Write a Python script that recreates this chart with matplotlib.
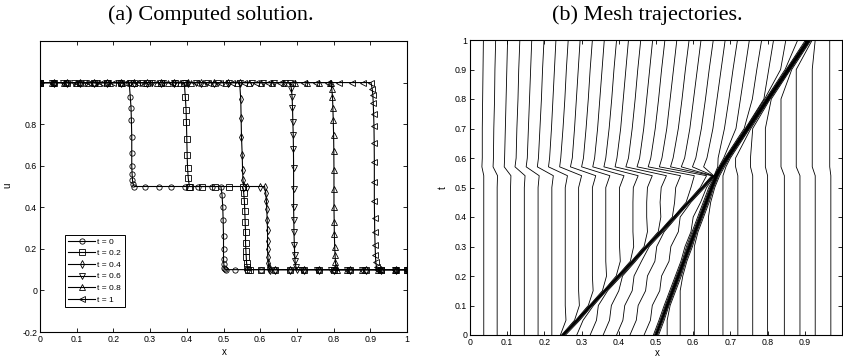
import matplotlib
matplotlib.use("Agg")
import matplotlib.pyplot as plt
import numpy as np

# ---------------- data ----------------
# time levels at which the mesh node positions were read (panel b)
t_levels = [0.0, 0.05, 0.1, 0.15, 0.2, 0.25, 0.3, 0.35, 0.4, 0.45, 0.5,
            0.54, 0.57, 0.6, 0.7, 0.8, 0.9, 1.0]

mesh_t000 = [0.000, 0.037, 0.073, 0.109, 0.146, 0.183, 0.220,
             0.243, 0.246, 0.248, 0.249, 0.250, 0.250, 0.250, 0.251, 0.252, 0.254, 0.257,
             0.287, 0.323, 0.358, 0.394, 0.430, 0.468,
             0.493, 0.496, 0.498, 0.499, 0.500, 0.500, 0.500, 0.501, 0.502, 0.504, 0.507,
             0.530, 0.565, 0.603, 0.641, 0.680, 0.720, 0.760, 0.800, 0.845, 0.887, 0.928, 0.970, 1.000]
mesh_t005 = [0.000, 0.037, 0.073, 0.109, 0.146, 0.183, 0.220, 0.258,
             0.281, 0.284, 0.286, 0.287, 0.288, 0.288, 0.289, 0.290, 0.292, 0.295,
             0.304, 0.340, 0.375, 0.411, 0.447, 0.485,
             0.508, 0.511, 0.513, 0.514, 0.515, 0.515, 0.515, 0.516, 0.517, 0.519, 0.522,
             0.530, 0.565, 0.603, 0.641, 0.680, 0.720, 0.760, 0.800, 0.845, 0.887, 0.928, 0.970, 1.000]
mesh_t010 = [0.000, 0.037, 0.073, 0.109, 0.146, 0.183, 0.220, 0.256, 0.294,
             0.318, 0.321, 0.323, 0.324, 0.325, 0.325, 0.326, 0.327, 0.329, 0.332,
             0.345, 0.380, 0.416, 0.452, 0.490,
             0.522, 0.525, 0.527, 0.528, 0.529, 0.530, 0.530, 0.531, 0.532, 0.533, 0.535, 0.538,
             0.565, 0.603, 0.641, 0.680, 0.720, 0.760, 0.800, 0.845, 0.887, 0.928, 0.970, 1.000]
mesh_t015 = [0.000, 0.037, 0.073, 0.109, 0.146, 0.183, 0.220, 0.256, 0.292, 0.331,
             0.356, 0.359, 0.361, 0.362, 0.363, 0.363, 0.364, 0.365, 0.367, 0.370,
             0.400, 0.436, 0.472, 0.510,
             0.537, 0.540, 0.542, 0.543, 0.544, 0.545, 0.545, 0.546, 0.547, 0.548, 0.550, 0.553,
             0.565, 0.603, 0.641, 0.680, 0.720, 0.760, 0.800, 0.845, 0.887, 0.928, 0.970, 1.000]
mesh_t020 = [0.000, 0.037, 0.073, 0.109, 0.146, 0.183, 0.220, 0.256, 0.292, 0.329, 0.367,
             0.393, 0.396, 0.398, 0.399, 0.400, 0.401, 0.402, 0.404, 0.407,
             0.410, 0.441, 0.477, 0.515,
             0.552, 0.555, 0.557, 0.558, 0.559, 0.560, 0.560, 0.561, 0.562, 0.563, 0.565, 0.568,
             0.572, 0.603, 0.641, 0.680, 0.720, 0.760, 0.800, 0.845, 0.887, 0.928, 0.970, 1.000]
mesh_t025 = [0.000, 0.037, 0.073, 0.109, 0.146, 0.183, 0.220, 0.256, 0.292, 0.329, 0.365, 0.404,
             0.431, 0.434, 0.436, 0.437, 0.438, 0.439, 0.440, 0.442, 0.445,
             0.461, 0.497, 0.535,
             0.567, 0.570, 0.572, 0.573, 0.574, 0.575, 0.575, 0.575, 0.576, 0.577, 0.578, 0.580, 0.583,
             0.603, 0.641, 0.680, 0.720, 0.760, 0.800, 0.845, 0.887, 0.928, 0.970, 1.000]
mesh_t030 = [0.000, 0.037, 0.073, 0.109, 0.146, 0.183, 0.220, 0.256, 0.292, 0.329, 0.365, 0.402, 0.440,
             0.468, 0.471, 0.473, 0.474, 0.475, 0.476, 0.477, 0.479, 0.482,
             0.502, 0.540, 0.578,
             0.582, 0.585, 0.587, 0.588, 0.589, 0.590, 0.590, 0.591, 0.592, 0.593, 0.595, 0.598,
             0.603, 0.641, 0.680, 0.720, 0.760, 0.800, 0.845, 0.887, 0.928, 0.970, 1.000]
mesh_t035 = [0.000, 0.037, 0.073, 0.109, 0.146, 0.183, 0.220, 0.256, 0.292, 0.329, 0.365, 0.402, 0.438, 0.477,
             0.506, 0.509, 0.511, 0.512, 0.513, 0.514, 0.516, 0.519,
             0.522, 0.560, 0.594,
             0.597, 0.600, 0.602, 0.603, 0.604, 0.605, 0.605, 0.605, 0.606, 0.607, 0.608, 0.610, 0.613,
             0.641, 0.680, 0.720, 0.760, 0.800, 0.845, 0.887, 0.928, 0.970, 1.000]
mesh_t040 = [0.000, 0.037, 0.073, 0.109, 0.146, 0.183, 0.220, 0.256, 0.292, 0.329, 0.365, 0.402, 0.438, 0.475, 0.513,
             0.544, 0.547, 0.548, 0.549, 0.551, 0.552, 0.553, 0.556,
             0.565, 0.600,
             0.612, 0.615, 0.617, 0.618, 0.619, 0.620, 0.620, 0.620, 0.621, 0.622, 0.623, 0.625, 0.628,
             0.641, 0.680, 0.720, 0.760, 0.800, 0.845, 0.887, 0.928, 0.970, 1.000]
mesh_t045 = [0.000, 0.037, 0.073, 0.109, 0.146, 0.183, 0.220, 0.256, 0.292, 0.329, 0.365, 0.402, 0.438, 0.475, 0.511, 0.550,
             0.581, 0.584, 0.586, 0.587, 0.588, 0.589, 0.591, 0.594,
             0.620,
             0.627, 0.630, 0.632, 0.633, 0.634, 0.635, 0.635, 0.635, 0.636, 0.637, 0.638, 0.640, 0.643,
             0.647, 0.680, 0.720, 0.760, 0.800, 0.845, 0.887, 0.928, 0.970, 1.000]
mesh_t050 = [0.000, 0.037, 0.073, 0.109, 0.146, 0.183, 0.220, 0.256, 0.292, 0.329, 0.365, 0.402, 0.439, 0.477, 0.514, 0.553, 0.594,
             0.619, 0.622, 0.624, 0.625, 0.626, 0.628, 0.631,
             0.636,
             0.642, 0.645, 0.647, 0.648, 0.649, 0.6495, 0.650, 0.650, 0.6505, 0.651, 0.652, 0.653, 0.655, 0.658,
             0.680, 0.720, 0.760, 0.800, 0.845, 0.887, 0.928, 0.970, 1.000]
mesh_t054 = [0.000, 0.037, 0.074, 0.110, 0.148, 0.186, 0.224, 0.262, 0.300, 0.338, 0.376, 0.414, 0.452, 0.490, 0.528, 0.566, 0.603, 0.636,
             0.650, 0.652, 0.654, 0.655, 0.656, 0.657, 0.658,
             0.659, 0.660, 0.661, 0.6615, 0.662, 0.662, 0.662, 0.6625, 0.663, 0.664, 0.665, 0.666, 0.668, 0.671,
             0.680, 0.720, 0.760, 0.800, 0.845, 0.887, 0.928, 0.970, 1.000]
mesh_t057 = [0.000, 0.032, 0.062, 0.092, 0.121, 0.151, 0.181, 0.211, 0.241, 0.270, 0.300, 0.330, 0.360, 0.390, 0.419, 0.449, 0.479, 0.509, 0.539, 0.568, 0.598, 0.628,
             0.666, 0.669, 0.671, 0.672, 0.673, 0.674, 0.6741, 0.6746, 0.6746, 0.6746, 0.6751, 0.676, 0.677, 0.678, 0.679, 0.681, 0.684,
             0.688, 0.714, 0.754, 0.794, 0.836, 0.877, 0.920, 0.967, 1.000]
mesh_t060 = [0.000, 0.033, 0.063, 0.093, 0.124, 0.154, 0.184, 0.214, 0.244, 0.275, 0.305, 0.335, 0.365, 0.395, 0.426, 0.456, 0.486, 0.516, 0.546, 0.577, 0.607, 0.637, 0.667,
             0.682, 0.685, 0.687, 0.688, 0.689, 0.690, 0.6906, 0.691, 0.691, 0.691, 0.6916, 0.692, 0.693, 0.694, 0.695, 0.697, 0.700,
             0.714, 0.754, 0.794, 0.836, 0.877, 0.920, 0.967, 1.000]
mesh_t070 = [0.000, 0.033, 0.064, 0.095, 0.126, 0.157, 0.188, 0.219, 0.250, 0.281, 0.312, 0.343, 0.374, 0.405, 0.436, 0.467, 0.498, 0.529, 0.560, 0.591, 0.622, 0.653, 0.684, 0.715,
             0.737, 0.740, 0.742, 0.743, 0.744, 0.745, 0.7456, 0.746, 0.746, 0.746, 0.7466, 0.747, 0.748, 0.749, 0.750, 0.752, 0.755,
             0.760, 0.794, 0.836, 0.877, 0.920, 0.967, 1.000]
mesh_t080 = [0.000, 0.034, 0.066, 0.097, 0.129, 0.160, 0.192, 0.223, 0.255, 0.286, 0.318, 0.349, 0.381, 0.412, 0.444, 0.475, 0.507, 0.538, 0.570, 0.601, 0.633, 0.664, 0.696, 0.727, 0.759, 0.790,
             0.792, 0.795, 0.797, 0.798, 0.799, 0.800, 0.8006, 0.801, 0.801, 0.801, 0.8016, 0.802, 0.803, 0.804, 0.805, 0.807, 0.810,
             0.836, 0.877, 0.920, 0.967, 1.000]
mesh_t090 = [0.000, 0.035, 0.067, 0.099, 0.131, 0.163, 0.195, 0.227, 0.259, 0.291, 0.323, 0.355, 0.387, 0.419, 0.451, 0.483, 0.515, 0.547, 0.579, 0.611, 0.643, 0.675, 0.707, 0.739, 0.771, 0.803, 0.835,
             0.847, 0.850, 0.852, 0.853, 0.854, 0.855, 0.8556, 0.856, 0.856, 0.856, 0.8566, 0.857, 0.858, 0.859, 0.860, 0.862, 0.865,
             0.877, 0.920, 0.967, 1.000]
mesh_t100 = [0.000, 0.036, 0.069, 0.101, 0.134, 0.166, 0.199, 0.231, 0.264, 0.296, 0.329, 0.361, 0.394, 0.426, 0.459, 0.491, 0.524, 0.556, 0.589, 0.621, 0.654, 0.686, 0.719, 0.751, 0.784, 0.816, 0.849, 0.881,
             0.902, 0.905, 0.907, 0.908, 0.909, 0.910, 0.9106, 0.911, 0.911, 0.911, 0.9116, 0.912, 0.913, 0.914, 0.915, 0.917, 0.920,
             0.928, 0.967, 1.000]

mesh_rows = [mesh_t000, mesh_t005, mesh_t010, mesh_t015, mesh_t020, mesh_t025,
             mesh_t030, mesh_t035, mesh_t040, mesh_t045, mesh_t050, mesh_t054,
             mesh_t057, mesh_t060, mesh_t070, mesh_t080, mesh_t090, mesh_t100]

# computed solution u at the mesh nodes (panel a)
u_t00 = [1.0, 1.0, 1.0, 1.0, 1.0, 1.0, 1.0,
         1.0, 0.93, 0.88, 0.82, 0.74, 0.66, 0.60, 0.56, 0.53, 0.51, 0.50,
         0.5, 0.5, 0.5, 0.5, 0.5, 0.5,
         0.50, 0.46, 0.40, 0.34, 0.26, 0.20, 0.15, 0.125, 0.11, 0.102, 0.10,
         0.1, 0.1, 0.1, 0.1, 0.1, 0.1, 0.1, 0.1, 0.1, 0.1, 0.1, 0.1, 0.1]
u_t02 = [1.0, 1.0, 1.0, 1.0, 1.0, 1.0, 1.0, 1.0, 1.0, 1.0, 1.0,
         1.0, 0.93, 0.87, 0.81, 0.73, 0.65, 0.59, 0.54, 0.50,
         0.5, 0.5, 0.5, 0.5,
         0.50, 0.47, 0.43, 0.38, 0.33, 0.28, 0.23, 0.19, 0.16, 0.13, 0.113, 0.10,
         0.1, 0.1, 0.1, 0.1, 0.1, 0.1, 0.1, 0.1, 0.1, 0.1, 0.1, 0.1]
u_t04 = [1.0, 1.0, 1.0, 1.0, 1.0, 1.0, 1.0, 1.0, 1.0, 1.0, 1.0, 1.0, 1.0, 1.0, 1.0,
         1.0, 0.92, 0.83, 0.74, 0.65, 0.58, 0.53, 0.50,
         0.5, 0.5,
         0.50, 0.47, 0.43, 0.39, 0.34, 0.29, 0.24, 0.20, 0.16, 0.13, 0.115, 0.105, 0.10,
         0.1, 0.1, 0.1, 0.1, 0.1, 0.1, 0.1, 0.1, 0.1, 0.1]
u_t06 = [1.0, 1.0, 1.0, 1.0, 1.0, 1.0, 1.0, 1.0, 1.0, 1.0, 1.0, 1.0,
         1.0, 1.0, 1.0, 1.0, 1.0, 1.0, 1.0, 1.0, 1.0, 1.0, 1.0,
         1.0, 0.97, 0.93, 0.88, 0.81, 0.75, 0.68, 0.59, 0.49, 0.40, 0.34, 0.28, 0.22, 0.17, 0.14, 0.115, 0.10,
         0.1, 0.1, 0.1, 0.1, 0.1, 0.1, 0.1, 0.1]
u_t08 = [1.0, 1.0, 1.0, 1.0, 1.0, 1.0, 1.0, 1.0, 1.0, 1.0, 1.0, 1.0, 1.0,
         1.0, 1.0, 1.0, 1.0, 1.0, 1.0, 1.0, 1.0, 1.0, 1.0, 1.0, 1.0, 1.0,
         1.0, 0.97, 0.93, 0.88, 0.82, 0.75, 0.67, 0.58, 0.49, 0.40, 0.33, 0.27, 0.21, 0.17, 0.135, 0.112, 0.10,
         0.1, 0.1, 0.1, 0.1, 0.1]
u_t10 = [1.0, 1.0, 1.0, 1.0, 1.0, 1.0, 1.0, 1.0, 1.0, 1.0, 1.0, 1.0, 1.0, 1.0,
         1.0, 1.0, 1.0, 1.0, 1.0, 1.0, 1.0, 1.0, 1.0, 1.0, 1.0, 1.0, 1.0, 1.0,
         1.0, 0.97, 0.94, 0.90, 0.85, 0.79, 0.71, 0.62, 0.52, 0.43, 0.35, 0.28, 0.22, 0.17, 0.135, 0.112, 0.10,
         0.1, 0.1, 0.1]

series_labels = ["t = 0", "t = 0.2", "t = 0.4", "t = 0.6", "t = 0.8", "t = 1"]
series_u = [u_t00, u_t02, u_t04, u_t06, u_t08, u_t10]
series_mesh = [mesh_t000, mesh_t020, mesh_t040, mesh_t060, mesh_t080, mesh_t100]
series_markers = ["o", "s", "d", "v", "^", "<"]

# ---------------- figure ----------------
W, H = 843, 358
fig = plt.figure(figsize=(W / 100, H / 100), dpi=100)
fig.patch.set_facecolor("white")

tickfont = dict(family="Liberation Sans", size=6.3)

ax1 = fig.add_axes([40 / W, 26 / H, 367 / W, 291 / H])
ax2 = fig.add_axes([470 / W, 23 / H, 372 / W, 295 / H])

# panel (a)
for xs, us, mk, lab in zip(series_mesh, series_u, series_markers, series_labels):
    ax1.plot(xs, us, "-", color="k", lw=0.8, marker=mk, ms=3.8,
             mfc="none", mec="k", mew=0.6, label=lab)
ax1.set_xlim(0, 1)
ax1.set_ylim(-0.2, 1.2)
ax1.set_xticks([0, 0.1, 0.2, 0.3, 0.4, 0.5, 0.6, 0.7, 0.8, 0.9, 1.0])
ax1.set_xticklabels(["0", "0.1", "0.2", "0.3", "0.4", "0.5", "0.6", "0.7", "0.8", "0.9", "1"], **tickfont)
ax1.set_yticks([-0.2, 0, 0.2, 0.4, 0.6, 0.8, 1.0, 1.2])
ax1.set_yticklabels(["-0.2", "0", "0.2", "0.4", "0.6", "0.8", "", ""], **tickfont)
ax1.set_xlabel("x", family="Liberation Sans", size=7)
ax1.set_ylabel("u", family="Liberation Sans", size=7)
ax1.xaxis.set_label_coords(0.501, -0.052)
ax1.yaxis.set_label_coords(-0.076, 0.505)
leg = ax1.legend(loc="lower left", bbox_to_anchor=(0.068, 0.086), borderaxespad=0,
                 prop=dict(family="Liberation Sans", size=6), handlelength=3.2,
                 handletextpad=0.3, labelspacing=0.45, borderpad=0.4,
                 fancybox=False, edgecolor="k", framealpha=1)
leg.get_frame().set_linewidth(0.7)

# panel (b)
X = np.array(mesh_rows)
for i in range(X.shape[1]):
    ax2.plot(X[:, i], t_levels, "-", color="k", lw=0.6)
ax2.set_xlim(0, 1)
ax2.set_ylim(0, 1)
ax2.set_xticks([0, 0.1, 0.2, 0.3, 0.4, 0.5, 0.6, 0.7, 0.8, 0.9, 1.0])
ax2.set_xticklabels(["0", "0.1", "0.2", "0.3", "0.4", "0.5", "0.6", "0.7", "0.8", "0.9", ""], **tickfont)
ax2.set_yticks([0, 0.1, 0.2, 0.3, 0.4, 0.5, 0.6, 0.7, 0.8, 0.9, 1.0])
ax2.set_yticklabels(["0", "0.1", "0.2", "0.3", "0.4", "0.5", "0.6", "0.7", "0.8", "0.9", "1"], **tickfont)
ax2.set_xlabel("x", family="Liberation Sans", size=7)
ax2.set_ylabel("t", family="Liberation Sans", size=7)
ax2.xaxis.set_label_coords(0.503, -0.045)
ax2.yaxis.set_label_coords(-0.059, 0.50)

for ax in (ax1, ax2):
    ax.tick_params(direction="in", length=3, width=0.6, top=True, right=True, pad=2)
    for sp in ax.spines.values():
        sp.set_linewidth(0.8)
        sp.set_color("k")

fig.text(211 / W, 1 - 15 / H, "(a) Computed solution.", ha="center", va="center",
         family="Liberation Serif", size=16)
fig.text(647 / W, 1 - 15 / H, "(b) Mesh trajectories.", ha="center", va="center",
         family="Liberation Serif", size=16)

fig.savefig("out.png", dpi=100)
